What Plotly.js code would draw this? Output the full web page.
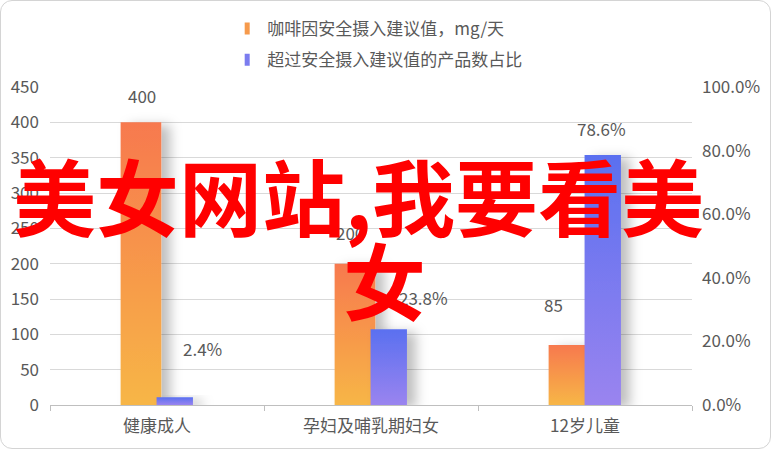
<!DOCTYPE html>
<html><head><meta charset="utf-8">
<script src="https://cdn.plot.ly/plotly-3.0.1.min.js"></script>
<style>
html,body{margin:0;padding:0;background:#fff;}
#chart{width:771px;height:449px;}
#frame{position:absolute;left:0;top:0;width:771px;height:449px;box-sizing:border-box;border:1px solid #d4d4d4;border-radius:12px;pointer-events:none;}
</style>
</head><body><div id="chart"></div><div id="frame"></div>
<script>
// ---- data ----
const categories = ['健康成人', '孕妇及哺乳期妇女', '12岁儿童'];
const caffeineMg = [400, 200, 85];
const overShare = [0.024, 0.238, 0.786];
const seriesNames = ['咖啡因安全摄入建议值，mg/天', '超过安全摄入建议值的产品数占比'];
const leftTicks = [0, 50, 100, 150, 200, 250, 300, 350, 400, 450];
const rightTicks = [0, 0.2, 0.4, 0.6, 0.8, 1.0];
const watermarkLines = ['美女网站,我要看美', '女'];

// ---- style ----
const FONT = '"Noto Sans CJK SC", "Noto Sans", sans-serif';
const GREY = '#595959';
const orangeShift = [[-15, 27], [-21, 31], [-32, 40]];
const blueShift = [[45, 49], [52, 32], [16, 27]];

const traces = [
  {
    type: 'bar', name: seriesNames[0], x: categories, y: caffeineMg,
    yaxis: 'y', offset: -0.17, width: 0.19,
    marker: {color: '#F69A4C', line: {width: 0}},
    legendgroup: 'a', hoverinfo: 'skip'
  },
  {
    type: 'bar', name: seriesNames[1], x: categories, y: overShare,
    yaxis: 'y2', offset: -0.002, width: 0.17,
    marker: {color: '#7B7CEF', line: {width: 0}},
    legendgroup: 'b', hoverinfo: 'skip'
  }
];

const annotations = [];
categories.forEach((c, i) => {
  annotations.push({x: c, y: caffeineMg[i], xref: 'x', yref: 'y', text: String(caffeineMg[i]),
    showarrow: false, xshift: orangeShift[i][0], yshift: orangeShift[i][1],
    font: {family: FONT, size: 17, color: GREY}});
  annotations.push({x: c, y: overShare[i], xref: 'x', yref: 'y2', text: (overShare[i] * 100).toFixed(1) + '%',
    showarrow: false, xshift: blueShift[i][0], yshift: blueShift[i][1],
    font: {family: FONT, size: 17, color: GREY}});
});
annotations.push({x: 0.4798, y: 0.6646, xref: 'paper', yref: 'paper', text: watermarkLines[0],
  showarrow: false, xanchor: 'center', yanchor: 'middle',
  font: {family: FONT, size: 83, color: '#FF0000', weight: 'bold'}});
annotations.push({x: 0.5218, y: 0.398, xref: 'paper', yref: 'paper', text: watermarkLines[1],
  showarrow: false, xanchor: 'center', yanchor: 'middle',
  font: {family: FONT, size: 83, color: '#FF0000', weight: 'bold'}});

const layout = {
  width: 771, height: 449,
  margin: {l: 50, r: 79, t: 86, b: 44},
  paper_bgcolor: '#fff', plot_bgcolor: '#fff',
  font: {family: FONT, color: GREY, size: 17},
  barmode: 'overlay',
  showlegend: true,
  legend: {
    x: 0.276, xanchor: 'left', y: 1.025, yanchor: 'bottom', yref: 'paper',
    orientation: 'v', traceorder: 'grouped', tracegroupgap: 6,
    font: {family: FONT, size: 17, color: GREY},
    bgcolor: 'rgba(0,0,0,0)', itemwidth: 30
  },
  xaxis: {
    type: 'category', range: [-0.5, 2.5],
    showgrid: false, showline: true, linecolor: '#bfbfbf', linewidth: 1,
    ticks: 'outside', tickson: 'boundaries', ticklen: 5, tickcolor: '#bfbfbf',
    ticklabelstandoff: 6,
    tickfont: {family: FONT, size: 17, color: GREY}, zeroline: false
  },
  yaxis: {
    range: [0, 450], tickvals: leftTicks, ticktext: leftTicks.map(String),
    showgrid: true, gridcolor: '#d9d9d9', gridwidth: 1, zeroline: false,
    showline: false, ticks: '', ticklabelstandoff: 10,
    tickfont: {family: FONT, size: 17, color: GREY}
  },
  yaxis2: {
    overlaying: 'y', side: 'right', range: [0, 1],
    tickvals: rightTicks, ticktext: rightTicks.map(v => (v * 100).toFixed(1) + '%'),
    showgrid: false, zeroline: false, showline: false, ticks: '', ticklabelstandoff: 9,
    tickfont: {family: FONT, size: 17, color: GREY}
  },
  annotations: annotations
};

function svgEl(tag, attrs) {
  const e = document.createElementNS('http://www.w3.org/2000/svg', tag);
  for (const k in attrs) e.setAttribute(k, attrs[k]);
  return e;
}

Plotly.newPlot('chart', traces, layout, {staticPlot: true}).then(gd => {
  const svg = gd.querySelector('svg.main-svg');
  let defs = svg.querySelector('defs');
  const gO = svgEl('linearGradient', {id: 'gradO', x1: 0, y1: 0, x2: 0, y2: 1});
  gO.appendChild(svgEl('stop', {offset: '0%', 'stop-color': '#F7794F'}));
  gO.appendChild(svgEl('stop', {offset: '100%', 'stop-color': '#F7B646'}));
  const gB = svgEl('linearGradient', {id: 'gradB', x1: 0, y1: 0, x2: 0, y2: 1});
  gB.appendChild(svgEl('stop', {offset: '0%', 'stop-color': '#5A70F0'}));
  gB.appendChild(svgEl('stop', {offset: '100%', 'stop-color': '#9A84EF'}));
  const f = svgEl('filter', {id: 'shadowF', x: '-100%', y: '-20%', width: '300%', height: '140%'});
  f.appendChild(svgEl('feDropShadow', {dx: 9, dy: 3, stdDeviation: 6, 'flood-color': '#000', 'flood-opacity': 0.25}));
  defs.appendChild(gO); defs.appendChild(gB); defs.appendChild(f);

  const barTraces = gd.querySelectorAll('.barlayer .trace.bars');
  barTraces.forEach((t, idx) => {
    t.querySelectorAll('.point path').forEach(p => {
      const fill = p.style.fill || '';
      const isBlue = fill.indexOf('123') >= 0;
      p.style.fill = isBlue ? 'url(#gradB)' : 'url(#gradO)';
      p.setAttribute('filter', 'url(#shadowF)');
    });
  });
  gd.querySelectorAll('.legend .legendpoints path').forEach(p => {
    p.setAttribute('d', 'M-2.5,-6h5v12h-5Z');
  });
});
</script>
</body></html>
